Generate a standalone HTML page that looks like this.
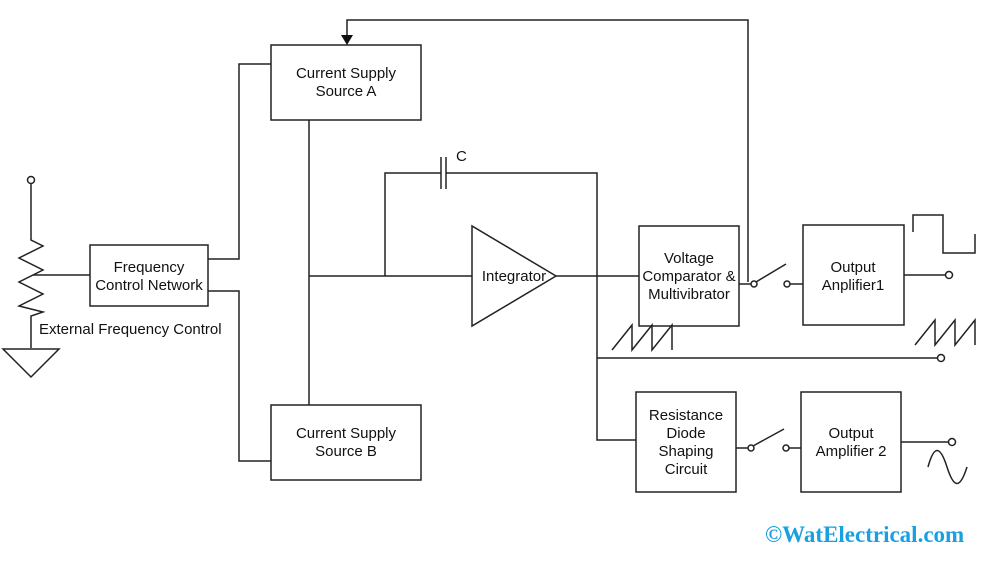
<!DOCTYPE html>
<html><head><meta charset="utf-8"><style>
body{margin:0;background:#fff;}
svg{display:block;}
text{font-family:"Liberation Sans",Arial,sans-serif;font-size:15px;fill:#111;}
</style></head><body>
<svg width="995" height="566" viewBox="0 0 995 566" xmlns="http://www.w3.org/2000/svg">
<g fill="none" stroke="#222" stroke-width="1.5">
<circle cx="31" cy="180" r="3.5" fill="#fff"/>
<polyline points="31,184 31,240 43,246 19,258 43,270 19,282 43,294 19,306 43,312 31,316 31,348"/>
<line x1="33" y1="275" x2="90" y2="275"/>
<polygon points="3,349 59,349 31,377"/>
<rect x="90" y="245" width="118" height="61"/>
<rect x="271" y="45" width="150" height="75"/>
<rect x="271" y="405" width="150" height="75"/>
<rect x="639" y="226" width="100" height="100"/>
<rect x="803" y="225" width="101" height="100"/>
<rect x="636" y="392" width="100" height="100"/>
<rect x="801" y="392" width="100" height="100"/>
<polyline points="208,259 239,259 239,64 271,64"/>
<polyline points="208,291 239,291 239,461 271,461"/>
<line x1="309" y1="120" x2="309" y2="405"/>
<line x1="309" y1="276" x2="472" y2="276"/>
<polyline points="385,276 385,173 441,173"/>
<polyline points="446,173 597,173 597,440 636,440"/>
<line x1="441" y1="157" x2="441" y2="189"/>
<line x1="446" y1="157" x2="446" y2="189"/>
<polygon points="472,226 472,326 556,276"/>
<line x1="556" y1="276" x2="639" y2="276"/>
<line x1="739" y1="284" x2="751" y2="284"/>
<circle cx="754" cy="284" r="3" fill="#fff"/>
<line x1="756" y1="282" x2="786" y2="264"/>
<circle cx="787" cy="284" r="3" fill="#fff"/>
<line x1="790" y1="284" x2="803" y2="284"/>
<polyline points="748,282 748,20 347,20 347,36"/>
<line x1="904" y1="275" x2="945" y2="275"/>
<circle cx="949" cy="275" r="3.5" fill="#fff"/>
<polyline points="913,232 913,215 943,215 943,253 975,253 975,234"/>
<line x1="597" y1="358" x2="937" y2="358"/>
<circle cx="941" cy="358" r="3.5" fill="#fff"/>
<polyline points="612,350 632,325 632,350 652,325 652,350 672,325 672,350"/>
<polyline points="915,345 935,320 935,345 955,320 955,345 975,320 975,345"/>
<line x1="736" y1="448" x2="748" y2="448"/>
<circle cx="751" cy="448" r="3" fill="#fff"/>
<line x1="753" y1="446" x2="784" y2="429"/>
<circle cx="786" cy="448" r="3" fill="#fff"/>
<line x1="789" y1="448" x2="801" y2="448"/>
<line x1="901" y1="442" x2="948" y2="442"/>
<circle cx="952" cy="442" r="3.5" fill="#fff"/>
<path d="M928,467 C934,445 940,445 947,467 C954,489 960,489 967,467"/>
</g>
<polygon points="341,35 353,35 347,45" fill="#111"/>
<g text-anchor="middle">
<text x="149" y="272">Frequency</text>
<text x="149" y="290">Control Network</text>
<text x="346" y="78">Current Supply</text>
<text x="346" y="96">Source A</text>
<text x="346" y="438">Current Supply</text>
<text x="346" y="456">Source B</text>
<text x="514" y="281">Integrator</text>
<text x="689" y="263">Voltage</text>
<text x="689" y="281">Comparator &amp;</text>
<text x="689" y="299">Multivibrator</text>
<text x="853" y="272">Output</text>
<text x="853" y="290">Anplifier1</text>
<text x="686" y="420">Resistance</text>
<text x="686" y="438">Diode</text>
<text x="686" y="456">Shaping</text>
<text x="686" y="474">Circuit</text>
<text x="851" y="438">Output</text>
<text x="851" y="456">Amplifier 2</text>
</g>
<text x="39" y="334">External Frequency Control</text>
<text x="456" y="161">C</text>
<text x="765" y="542" style="font-family:'Liberation Serif',serif;font-weight:bold;font-size:23px;fill:#1aa0e0">©WatElectrical.com</text>
</svg>
</body></html>
